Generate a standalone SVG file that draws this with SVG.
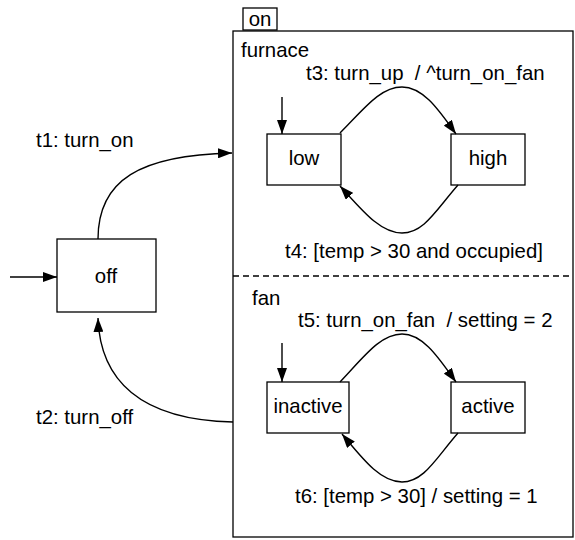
<svg xmlns="http://www.w3.org/2000/svg" width="575" height="540" viewBox="0 0 575 540">
  <style>
    .box { fill: #fff; stroke: #000; stroke-width: 1.3; }
    .lbl { font-family: "Liberation Sans", Arial, Helvetica, sans-serif; font-size: 20.4px; fill: #000; }
    .mid { text-anchor: middle; }
    .edge { fill: none; stroke: #000; stroke-width: 1.4; marker-end: url(#arrow); }
  </style>
  <defs>
    <marker id="arrow" viewBox="0 0 14 10" refX="14" refY="5" markerWidth="14" markerHeight="10" markerUnits="userSpaceOnUse" orient="auto">
      <path d="M0,0 L14,5 L0,10 Z" fill="#000"/>
    </marker>
  </defs>
  <rect width="575" height="540" fill="#fff"/>

  <!-- composite state "on" with its name tab -->
  <g id="on">
    <rect class="box" x="243" y="8" width="34" height="22"/>
    <text class="lbl mid" x="260" y="26">on</text>
    <rect class="box" x="233" y="31" width="340" height="506"/>
    <line x1="233" y1="276" x2="573" y2="276" stroke="#000" stroke-width="1.3" stroke-dasharray="6,4"/>
    <text class="lbl" x="241" y="57">furnace</text>
    <text class="lbl" x="252" y="305">fan</text>
  </g>

  <g id="off">
    <rect class="box" x="57" y="239" width="99" height="73"/>
    <text class="lbl mid" x="106" y="283">off</text>
  </g>

  <g id="low">
    <rect class="box" x="267" y="134" width="74" height="51"/>
    <text class="lbl mid" x="304" y="165">low</text>
  </g>

  <g id="high">
    <rect class="box" x="451" y="134" width="74" height="51"/>
    <text class="lbl mid" x="488" y="165">high</text>
  </g>

  <g id="inactive">
    <rect class="box" x="267" y="382" width="82" height="51"/>
    <text class="lbl mid" x="308" y="413">inactive</text>
  </g>

  <g id="active">
    <rect class="box" x="451" y="382" width="74" height="51"/>
    <text class="lbl mid" x="488" y="413">active</text>
  </g>

  <!-- transitions and initial-state pointers -->
  <g id="connectors">
    <line class="edge" x1="10" y1="277" x2="57" y2="277"/>
    <line class="edge" x1="282" y1="97" x2="282" y2="134"/>
    <line class="edge" x1="282" y1="343" x2="282" y2="382"/>

    <path class="edge" d="M98,239 C98,180 140,155 232,153"/>
    <text class="lbl" x="36" y="147">t1: turn_on</text>

    <path class="edge" d="M233,422 C140,420 100,380 98,318"/>
    <text class="lbl" x="36" y="424">t2: turn_off</text>

    <path class="edge" d="M340,133 C364,109 380,87 402,87 C424,87 440,112 456,134"/>
    <text class="lbl" x="306" y="80" xml:space="preserve">t3: turn_up  / ^turn_on_fan</text>

    <path class="edge" d="M458,185 C436,210 424,233 402,233 C380,233 362,210 340,186"/>
    <text class="lbl" x="285" y="258">t4: [temp &gt; 30 and occupied]</text>

    <path class="edge" d="M340,382 C363,358 380,334 402,334 C424,334 440,360 456,382"/>
    <text class="lbl" x="298" y="327" xml:space="preserve">t5: turn_on_fan  / setting = 2</text>

    <path class="edge" d="M458,433 C436,458 424,482 402,482 C380,482 362,458 342,434"/>
    <text class="lbl" x="295" y="503">t6: [temp &gt; 30] / setting = 1</text>
  </g>
</svg>
